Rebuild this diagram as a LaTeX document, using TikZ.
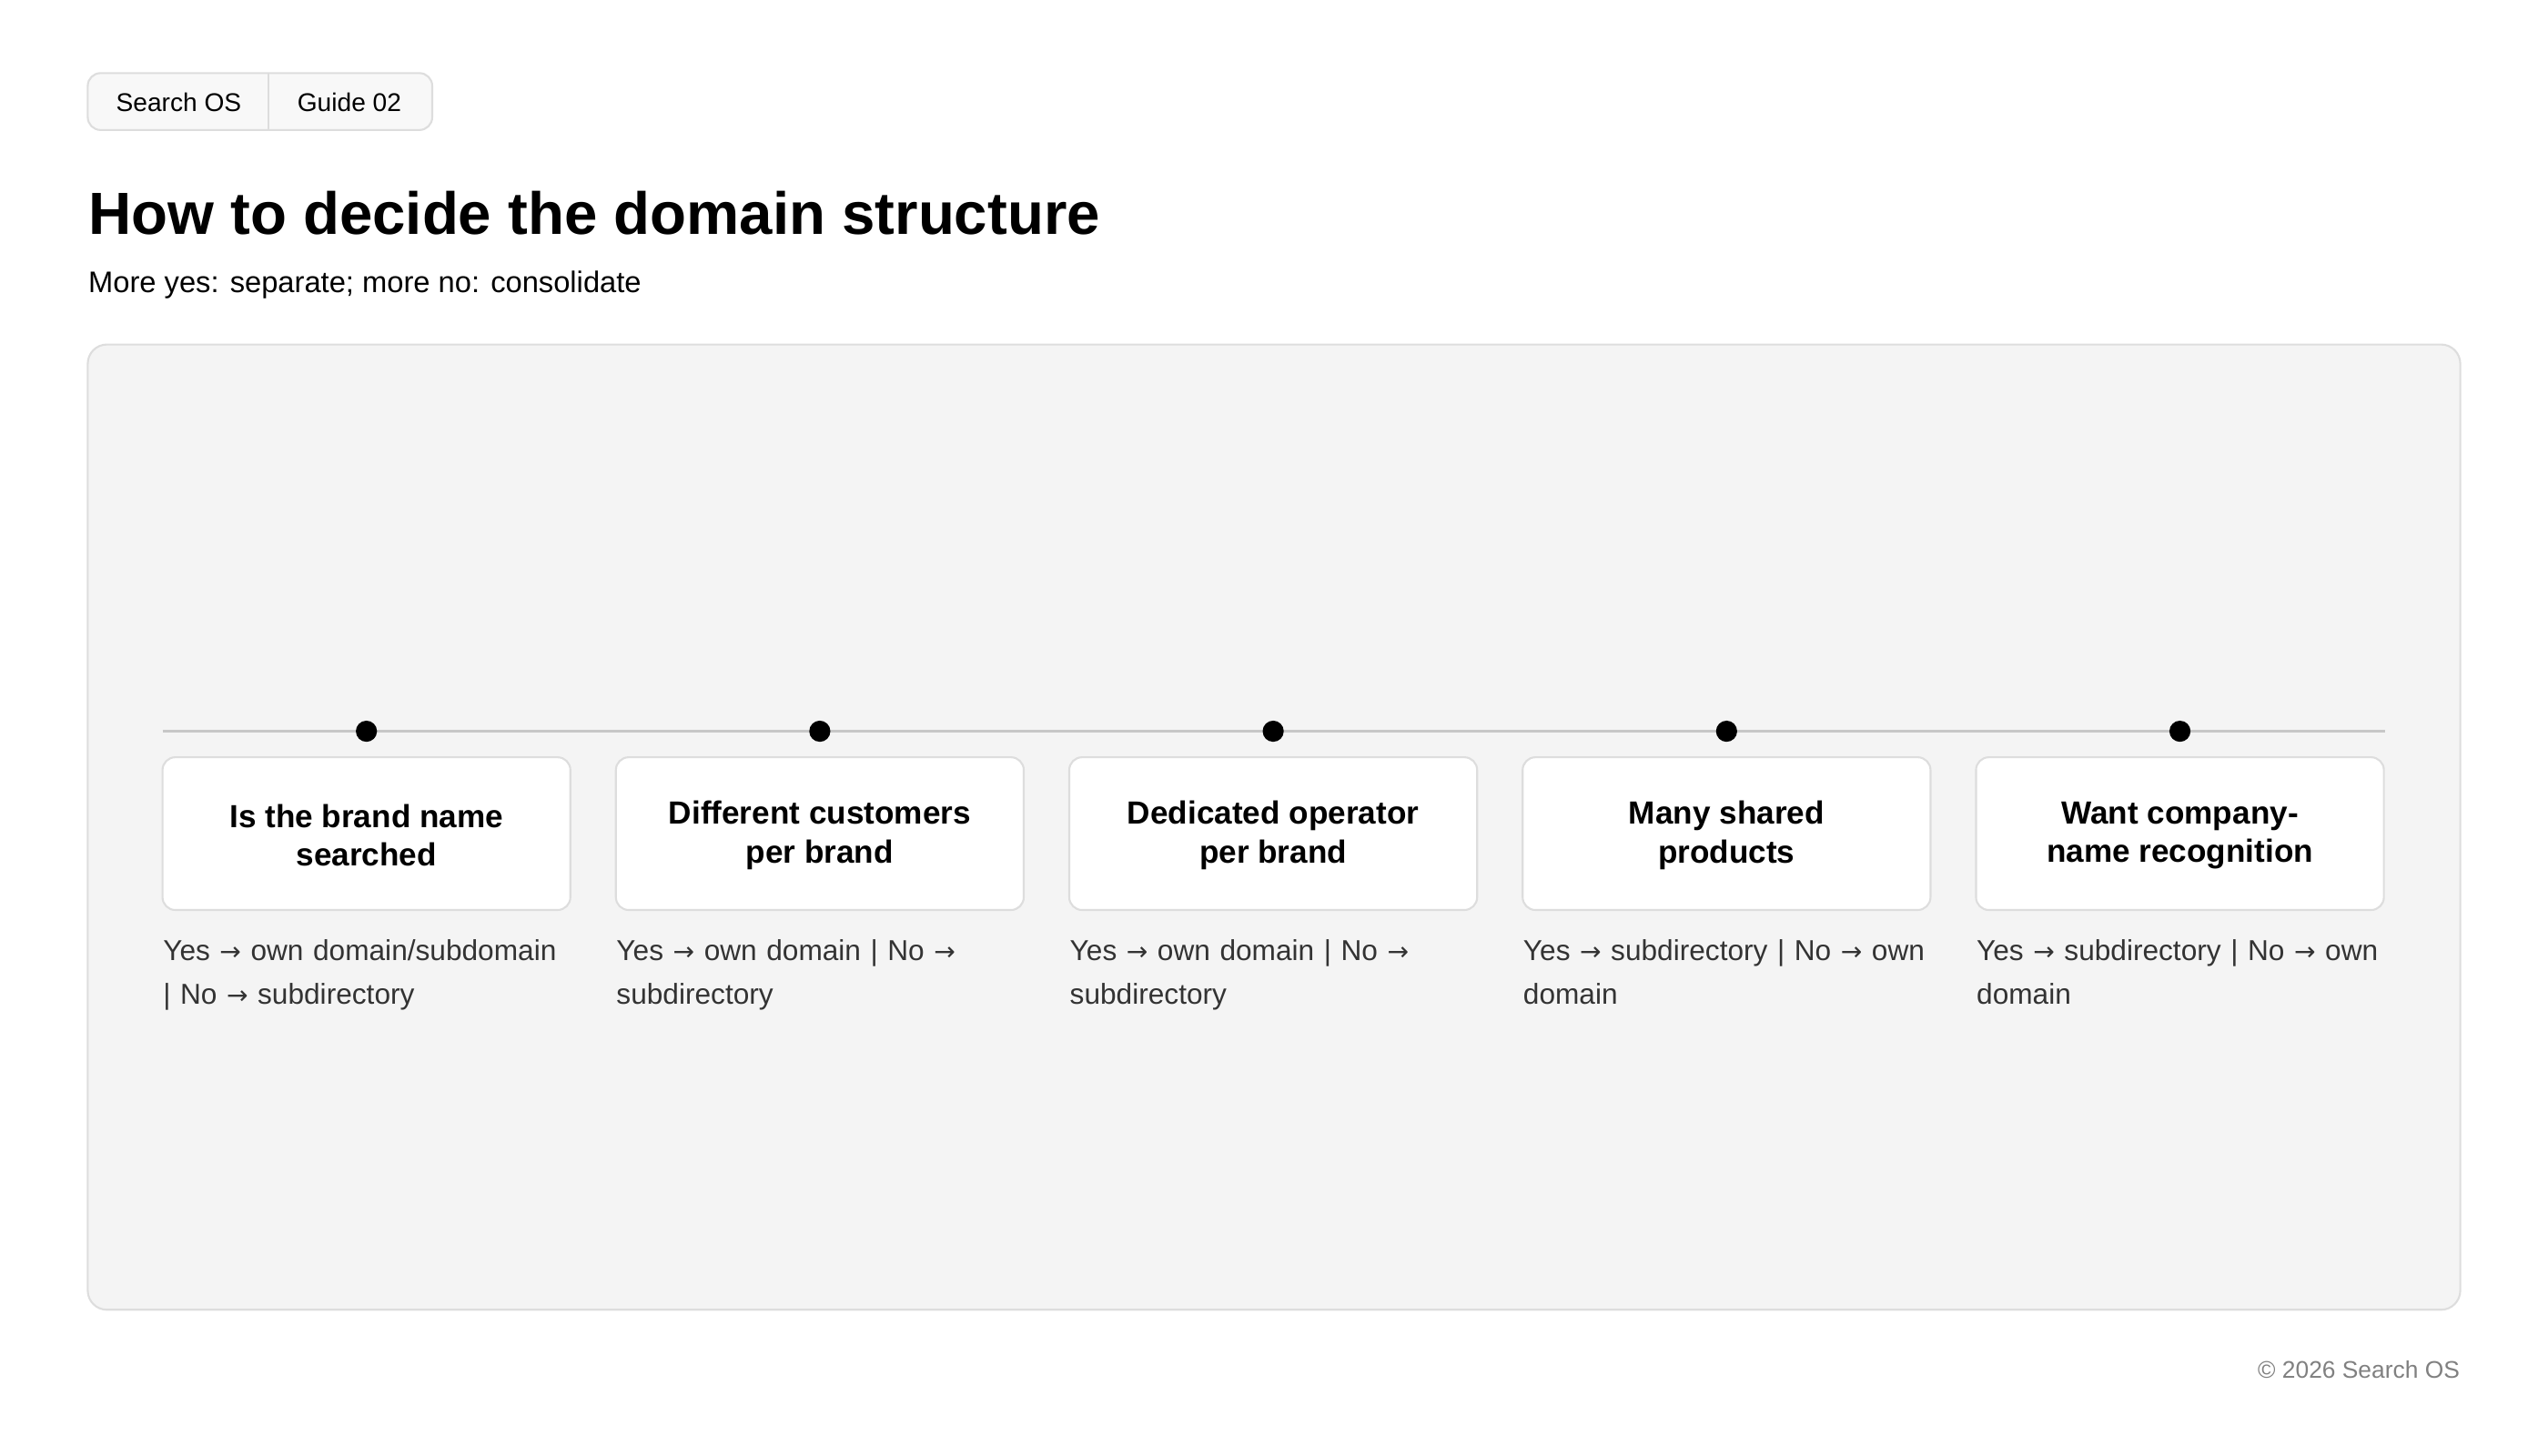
\documentclass[tikz,border=0pt]{standalone}
\usepackage{fontspec}
\setmainfont{Liberation Sans}
\newfontfamily\arrowfont{DejaVu Sans}
\usetikzlibrary{positioning}
\usetikzlibrary{calc}
\definecolor{panelbg}{HTML}{F4F4F4}
\definecolor{edge}{HTML}{DDDDDD}
\definecolor{subtext}{HTML}{333333}
\newcommand{\ar}{{\arrowfont\footnotesize →}}

\begin{document}
\begin{tikzpicture}[x=0.01786cm,y=-0.01786cm,
    box/.style={draw=edge,fill=white,rounded corners=4pt,line width=0.6pt},
    desc/.style={anchor=north west,inner sep=0pt,text width=4.5cm,align=left,font=\fontsize{9}{13.6}\selectfont,text=subtext},
    tab/.style={font=\fontsize{8}{10}\selectfont}]
    \useasboundingbox (0,0) rectangle (1568,896);
    % header
    \draw[edge,fill=panelbg!60,rounded corners=4pt,line width=0.6pt] (54,45) rectangle (266,80);
    \draw[edge,line width=0.6pt] (165,45) -- (165,80);
    \node[tab] (tabA) at (110,63) {Search OS};
    \node[tab] (tabB) at (215,63) {Guide 02};
    \node[anchor=base west,inner sep=0pt,font=\fontsize{18.6}{22}\selectfont\bfseries] (title) at (54,144) {How to decide the domain structure};
    \node[anchor=base west,inner sep=0pt,font=\fontsize{9.3}{12}\selectfont] (subtitle) at (54,180) {More yes: separate; more no: consolidate};
    % panel
    \draw[edge,fill=panelbg,rounded corners=6pt,line width=0.6pt] (54,212) rectangle (1514,806);
    \coordinate (lineL) at (100,450);
    \coordinate (lineR) at (1468,450);
    \draw[edge!90!black,line width=1pt] (lineL) -- (lineR);
    % steps
    \foreach \i/\x/\q/\d in {
        1/100/{Is the brand name\\searched}/{Yes \ar{} own domain/subdomain\\| No \ar{} subdirectory},
        2/379/{Different customers\\per brand}/{Yes \ar{} own domain | No \ar{}\\subdirectory},
        3/658/{Dedicated operator\\per brand}/{Yes \ar{} own domain | No \ar{}\\subdirectory},
        4/937/{Many shared\\products}/{Yes \ar{} subdirectory | No \ar{} own\\domain},
        5/1216/{Want company-\\name recognition}/{Yes \ar{} subdirectory | No \ar{} own\\domain}}{
        \draw[box] (\x,466) rectangle ++(251,94);
        \node[align=center,font=\fontsize{10}{12}\selectfont\bfseries] (card\i) at (\x+125.5,514) {\q};
        \fill (\x+125.5,450) circle (6.5) coordinate (dot\i);
        \node[desc] (desc\i) at (\x,578) {\d};
    }
    % footer
    \node[anchor=base east,inner sep=0pt,font=\fontsize{7.5}{9}\selectfont,text=gray] (foot) at (1514,848) {© 2026 Search OS};
\end{tikzpicture}
\end{document}
